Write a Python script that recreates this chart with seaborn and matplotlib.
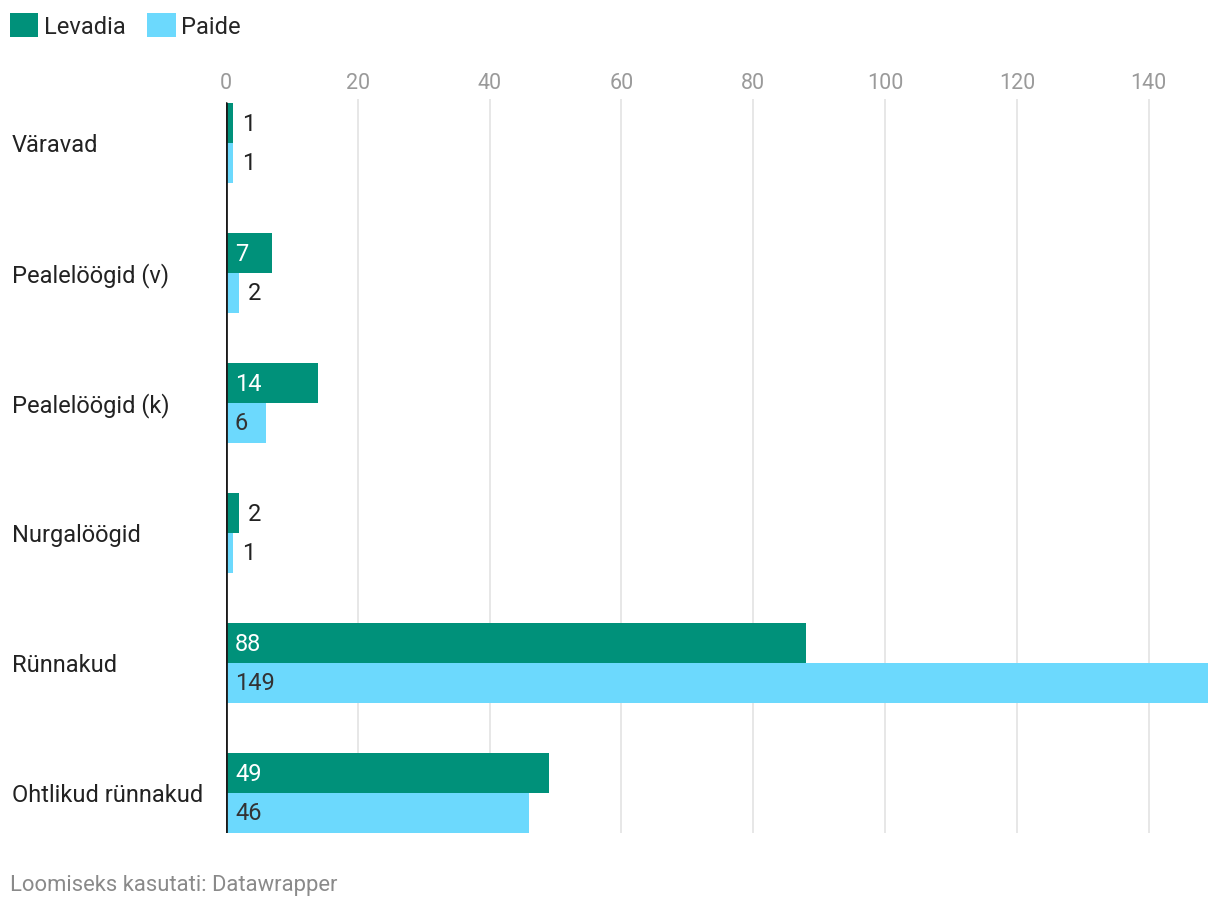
import matplotlib
matplotlib.use("Agg")
import matplotlib.pyplot as plt
import seaborn as sns
import pandas as pd
from matplotlib.patches import Patch

categories = ["Väravad", "Pealelöögid (v)", "Pealelöögid (k)", "Nurgalöögid", "Rünnakud", "Ohtlikud rünnakud"]
levadia = [1, 7, 14, 2, 88, 49]
paide = [1, 2, 6, 1, 149, 46]
series = ["Levadia", "Paide"]
xticks = [0, 20, 40, 60, 80, 100, 120, 140]
footer = "Loomiseks kasutati: Datawrapper"

colors = {"Levadia": "#00917a", "Paide": "#6cd9fd"}

sns.set_theme(style="white")
plt.rcParams["font.family"] = ["Roboto", "DejaVu Sans"]

df = pd.DataFrame({
    "cat": categories * 2,
    "val": levadia + paide,
    "team": ["Levadia"] * len(categories) + ["Paide"] * len(categories),
})

fig = plt.figure(figsize=(12.2, 9.12), dpi=100)
ax = fig.add_axes([226 / 1220, (912 - 834) / 912, 982 / 1220, 734 / 912])

sns.barplot(data=df, y="cat", x="val", hue="team", order=categories, hue_order=series,
            palette=colors, orient="h", width=0.615, dodge=True, legend=False,
            saturation=1, edgecolor="none", linewidth=0, ax=ax, zorder=3)

ax.set_xlim(0, 149)
ax.set_ylim(5.3077, -0.3385)
ax.set_xticks(xticks)
ax.xaxis.tick_top()
ax.tick_params(axis="x", length=0, pad=4.5, labelsize=15.5, labelcolor="#9a9a9a")
ax.set_yticks([])
ax.set_xlabel("")
ax.set_ylabel("")
for s in ax.spines.values():
    s.set_visible(False)
for t in xticks[1:]:
    ax.axvline(t, color="#e3e3e3", lw=1.2, zorder=1)
ax.axvline(0, color="#1a1a1a", lw=2, zorder=5, ymin=0, ymax=(834 - 104) / 734)

# category labels
for i, c in enumerate(categories):
    ax.text(-(226 - 12) / 982 * 149, i + 0.012, c, ha="left", va="center", fontsize=17, color="#222222")

# value labels
px_per_unit = 982 / 149
for container, team in zip(ax.containers, series):
    for bar in container:
        w = bar.get_width()
        yc = bar.get_y() + bar.get_height() / 2
        if w * px_per_unit > 30:
            col = "white" if team == "Levadia" else "#333333"
            ax.text(9 / px_per_unit, yc, f"{int(w)}", ha="left", va="center", fontsize=17,
                    color=col, zorder=6)
        else:
            ax.text(w + 9 / px_per_unit, yc, f"{int(w)}", ha="left", va="center", fontsize=17,
                    color="#222222", zorder=6)

handles = [Patch(facecolor=colors[s], edgecolor="none", label=s) for s in series]
fig.legend(handles=handles, loc="upper left", bbox_to_anchor=(10 / 1220, 1 - 14 / 912), ncol=2,
           frameon=False, fontsize=17, handlelength=1.2, handleheight=1.2, handletextpad=0.25,
           columnspacing=0.9, borderaxespad=0, borderpad=0)

fig.text(10 / 1220, 1 - 886 / 912, footer, ha="left", va="center", fontsize=15.8, color="#8a8a8a")

fig.savefig("out.png", dpi=100)
